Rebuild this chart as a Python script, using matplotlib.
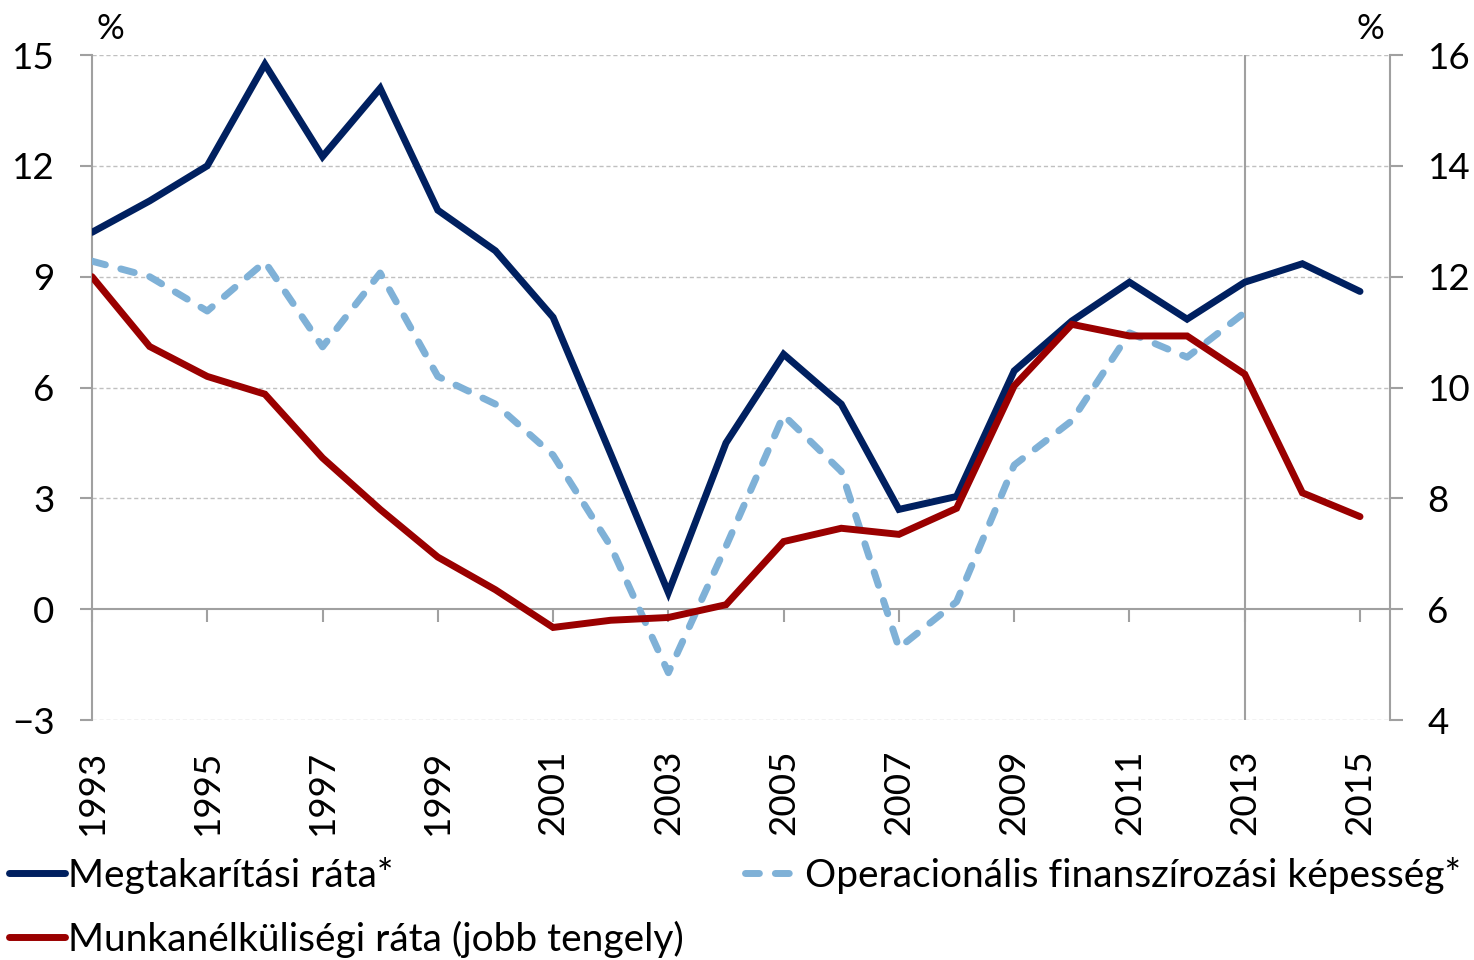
import numpy as np
import matplotlib
matplotlib.use("Agg")
import matplotlib.pyplot as plt

plt.rcParams['font.family'] = ['Lato', 'DejaVu Sans']

years = np.arange(1993, 2016)

# Megtakarítási ráta* (bal tengely)
savings = [10.2, 11.05, 12.0, 14.75, 12.25, 14.1, 10.8, 9.7, 7.9, 4.2, 0.45,
           4.5, 6.9, 5.55, 2.7, 3.05, 6.45, 7.8, 8.85, 7.85, 8.85, 9.35, 8.6]

# Operacionális finanszírozási képesség* (bal tengely), 2013-ig
opfin_years = np.arange(1993, 2014)
opfin = [9.42, 9.0, 8.07, 9.4, 7.1, 9.1, 6.3, 5.55, 4.17, 1.7, -1.72,
         1.7, 5.25, 3.73, -1.05, 0.2, 3.9, 5.1, 7.48, 6.82, 8.03]

# Munkanélküliségi ráta (jobb tengely)
unemp = [12.0, 10.74, 10.2, 9.88, 8.73, 7.8, 6.94, 6.35, 5.67, 5.8, 5.85,
         6.08, 7.22, 7.46, 7.35, 7.82, 10.03, 11.14, 10.93, 10.93, 10.24, 8.1, 7.67]

labels = ['Megtakarítási ráta*',
          'Operacionális finanszírozási képesség*',
          'Munkanélküliségi ráta (jobb tengely)']

c_dark = '#002060'
c_light = '#7FB1D7'
c_red = '#9A0000'
c_axis = '#A0A0A0'

fig = plt.figure(figsize=(14.74, 9.6), dpi=100)
ax = fig.add_axes([0.0624, 0.25, 0.8806, 0.6927])
ax2 = ax.twinx()

ax.set_xlim(1993, 2015.52)
ax.set_ylim(-3, 15)
ax.set_yticks(np.arange(-3, 16, 3))
ax2.set_ylim(4, 16)
ax2.set_yticks(np.arange(4, 17, 2))

for yv in [-3, 3, 6, 9, 12, 15]:
    ax.axhline(yv, color='#C0C0C0', lw=1.0, ls=(0, (3, 2)), zorder=0)
ax.axvline(2013, color=c_axis, lw=1.5, zorder=1)

l1, = ax.plot(years, savings, color=c_dark, lw=5, solid_capstyle='round',
              solid_joinstyle='miter', zorder=4)
l2, = ax.plot(opfin_years, opfin, color=c_light, lw=5, dashes=(2.0, 2.3),
              dash_capstyle='round', zorder=3)
l3, = ax2.plot(years, unemp, color=c_red, lw=5, solid_capstyle='round',
               solid_joinstyle='miter', zorder=4)

# spines: x axis sits at 0
for a in (ax, ax2):
    a.spines['top'].set_visible(False)
ax.spines['bottom'].set_position(('data', 0))
ax.spines['bottom'].set_color(c_axis)
ax.spines['bottom'].set_linewidth(1.5)
ax2.spines['bottom'].set_visible(False)
ax.spines['left'].set_color(c_axis)
ax.spines['left'].set_linewidth(1.5)
ax2.spines['right'].set_color(c_axis)
ax2.spines['right'].set_linewidth(1.5)
ax.spines['right'].set_visible(False)
ax2.spines['left'].set_visible(False)

ax.set_xticks(np.arange(1993, 2016, 2))
ax.set_xticklabels([str(y) for y in range(1993, 2016, 2)], rotation=90, va='top')
ax.tick_params(axis='x', length=9, width=1.5, color=c_axis, pad=92,
               labelsize=26.5, direction='out')
ax.tick_params(axis='y', length=9, width=1.5, color=c_axis, pad=18,
               labelsize=26.5, direction='out')
ax2.tick_params(axis='y', length=9, width=1.5, color=c_axis, pad=18,
                labelsize=26.5, direction='out')

fig.text(0.075, 0.97, '%', fontsize=25, ha='center', va='center')
fig.text(0.930, 0.97, '%', fontsize=25, ha='center', va='center')

fig.legend([l1, l3, l2], [labels[0], labels[2], labels[1]],
           loc='lower left', bbox_to_anchor=(0.006, 0.002, 0.985, 0.13),
           ncol=2, mode='expand', frameon=False, fontsize=28,
           handlelength=1.45, handletextpad=0.08, labelspacing=0.7,
           borderaxespad=0, borderpad=0)

fig.savefig('out.png', dpi=100)
